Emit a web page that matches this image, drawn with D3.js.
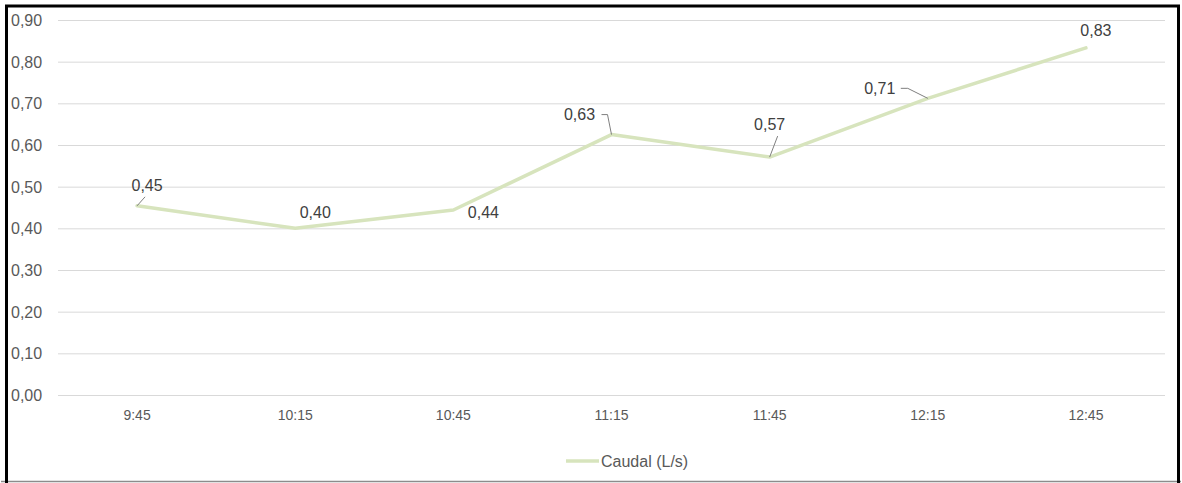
<!DOCTYPE html>
<html>
<head>
<meta charset="utf-8">
<script src="https://cdn.jsdelivr.net/npm/d3@7"></script>
<style>
  html, body { margin: 0; padding: 0; background: #fff; }
  svg { display: block; font-family: "Liberation Sans", Arial, sans-serif; }
</style>
</head>
<body>
<svg id="chart" width="1182" height="483"></svg>
<script>
// Flow readings over the morning
const categories = ["9:45", "10:15", "10:45", "11:15", "11:45", "12:15", "12:45"];
const caudal = [0.454, 0.400, 0.444, 0.625, 0.571, 0.712, 0.833];
const yTicks = [0, 0.1, 0.2, 0.3, 0.4, 0.5, 0.6, 0.7, 0.8, 0.9];
const seriesName = "Caudal (L/s)";

// Label placement relative to each point: [dx, dy] for the text centre,
// and optional leader-line path points (relative to the point).
const labelOffsets = [
  { dx: 10, dy: -20, leader: [[0, 0], [8, -9]] },
  { dx: 20, dy: -16 },
  { dx: 30, dy: 2 },
  { dx: -32, dy: -20, leader: [[0, 0], [-4, -20], [-10, -20]] },
  { dx: 0, dy: -33, leader: [[0, 0], [8, -21]] },
  { dx: -48, dy: -10, leader: [[0, 0], [-20, -10], [-27, -10]] },
  { dx: 10, dy: -18 }
];

const svg = d3.select("#chart");
const W = 1182, H = 483;
const plot = { left: 58, right: 1165, top: 20, bottom: 395 };

const fmt = v => d3.format(".2f")(v).replace(".", ",");

const x = d3.scaleBand().domain(categories).range([plot.left, plot.right]).padding(0);
const y = d3.scaleLinear().domain([0, 0.9]).range([plot.bottom, plot.top]);
const cx = c => x(c) + x.bandwidth() / 2;

// Outer frame
svg.append("rect").attr("x", 0).attr("y", 0).attr("width", W).attr("height", H).attr("fill", "#fff");
svg.append("line").attr("x1", 1).attr("x2", W - 1).attr("y1", 481.5).attr("y2", 481.5)
  .attr("stroke", "#8c8c8c").attr("stroke-width", 1.5);
svg.append("path")
  .attr("d", `M6.5,${H} L6.5,6 L1178.5,6 L1178.5,${H}`)
  .attr("fill", "none").attr("stroke", "#000").attr("stroke-width", 3);

// Gridlines and y labels
const yAxis = d3.axisLeft(y).tickValues(yTicks).tickSize(-(plot.right - plot.left)).tickFormat(fmt);
const gy = svg.append("g").attr("transform", `translate(${plot.left},0)`).call(yAxis);
gy.select(".domain").remove();
gy.selectAll(".tick line").attr("stroke", "#d9d9d9").attr("stroke-width", 1);
gy.selectAll(".tick text")
  .attr("x", 11 - plot.left).attr("text-anchor", "start").attr("dy", "0.35em")
  .attr("fill", "#595959").style("font-size", "16px")
  .style("font-family", "'Liberation Sans', Arial, sans-serif");

// X labels
const xAxis = d3.axisBottom(x).tickSize(0).tickPadding(15);
const gx = svg.append("g").attr("transform", `translate(0,${plot.bottom})`).call(xAxis);
gx.select(".domain").remove();
gx.selectAll(".tick text").attr("fill", "#595959").style("font-size", "14px")
  .style("font-family", "'Liberation Sans', Arial, sans-serif");

// Series line
const line = d3.line().x((d, i) => cx(categories[i])).y(d => y(d));
svg.append("path").datum(caudal).attr("d", line)
  .attr("fill", "none").attr("stroke", "#d7e4bd").attr("stroke-width", 3.5)
  .attr("stroke-linejoin", "round").attr("stroke-linecap", "round");

// Data labels with leader lines
caudal.forEach((v, i) => {
  const px = cx(categories[i]), py = y(v);
  const o = labelOffsets[i];
  if (o.leader) {
    svg.append("path")
      .attr("d", d3.line()(o.leader.map(p => [px + p[0], py + p[1]])))
      .attr("fill", "none").attr("stroke", "#7f7f7f").attr("stroke-width", 1);
  }
  svg.append("text")
    .attr("x", px + o.dx).attr("y", py + o.dy).attr("dy", "0.35em")
    .attr("text-anchor", "middle").attr("fill", "#404040").style("font-size", "16px")
    .text(fmt(v));
});

// Legend
const lg = svg.append("g").attr("transform", "translate(566,461)");
lg.append("line").attr("x1", 0).attr("x2", 33).attr("y1", 0).attr("y2", 0)
  .attr("stroke", "#d7e4bd").attr("stroke-width", 3.5);
lg.append("text").attr("x", 35).attr("y", 0).attr("dy", "0.35em")
  .attr("fill", "#595959").style("font-size", "16px").text(seriesName);
</script>
</body>
</html>
